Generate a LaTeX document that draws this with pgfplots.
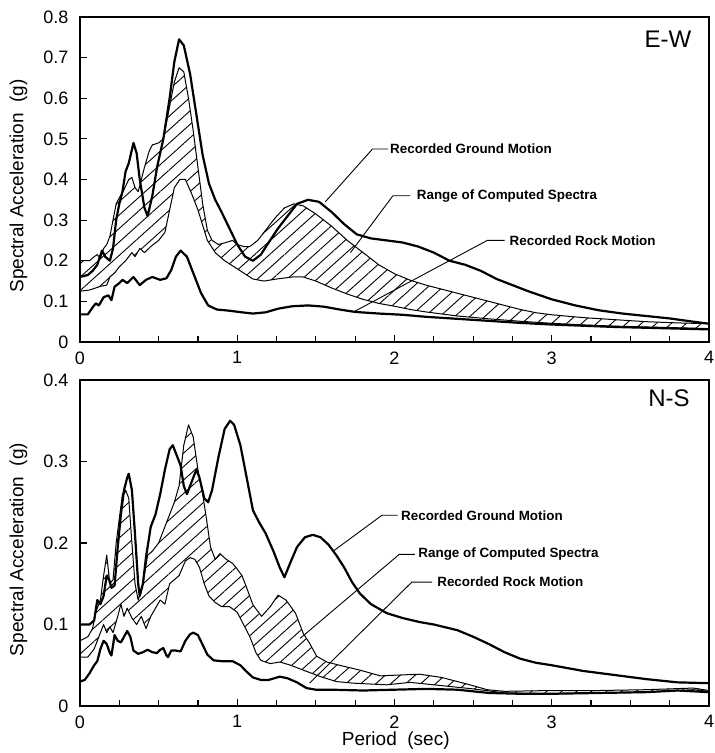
\documentclass[border=0pt]{standalone}
\usepackage{fontspec}
\setmainfont{Liberation Sans}
\usepackage{pgfplots}
\usepackage{pgfplotstable}
\pgfplotsset{compat=1.18}
\usepgfplotslibrary{fillbetween}
\usetikzlibrary{patterns.meta}

% ---------------- E-W component ----------------
\pgfplotstableread{
T A
0 0.16
0.05 0.165
0.08 0.175
0.11 0.19
0.14 0.225
0.16 0.21
0.19 0.20
0.21 0.23
0.23 0.30
0.25 0.34
0.27 0.37
0.29 0.42
0.31 0.44
0.34 0.49
0.36 0.465
0.38 0.40
0.41 0.33
0.43 0.31
0.46 0.36
0.49 0.43
0.53 0.50
0.57 0.60
0.60 0.69
0.63 0.745
0.66 0.73
0.70 0.66
0.74 0.56
0.78 0.46
0.82 0.39
0.86 0.35
0.90 0.32
0.95 0.28
1.00 0.24
1.05 0.21
1.10 0.20
1.15 0.215
1.20 0.245
1.26 0.28
1.32 0.31
1.38 0.34
1.45 0.35
1.52 0.345
1.60 0.32
1.68 0.29
1.76 0.265
1.85 0.255
1.95 0.25
2.05 0.245
2.15 0.235
2.25 0.22
2.35 0.20
2.45 0.19
2.55 0.175
2.65 0.155
2.75 0.14
2.85 0.125
3.00 0.105
3.15 0.09
3.30 0.078
3.45 0.07
3.60 0.064
3.75 0.058
3.90 0.05
4.00 0.045
}\ewGround

\pgfplotstableread{
T A
0 0.068
0.05 0.068
0.08 0.085
0.10 0.095
0.12 0.09
0.15 0.11
0.18 0.115
0.20 0.103
0.22 0.136
0.25 0.145
0.27 0.153
0.30 0.145
0.34 0.16
0.38 0.14
0.42 0.153
0.46 0.16
0.51 0.153
0.55 0.157
0.58 0.177
0.61 0.21
0.64 0.225
0.68 0.21
0.72 0.17
0.77 0.12
0.815 0.09
0.87 0.08
0.95 0.077
1.03 0.073
1.10 0.07
1.18 0.073
1.26 0.082
1.35 0.088
1.45 0.09
1.55 0.087
1.65 0.08
1.75 0.074
1.90 0.07
2.05 0.067
2.20 0.062
2.40 0.057
2.60 0.052
2.80 0.047
3.00 0.043
3.20 0.04
3.40 0.037
3.60 0.035
3.80 0.033
4.00 0.031
}\ewRock

\pgfplotstableread{
T A
0 0.20
0.06 0.20
0.09 0.21
0.11 0.215
0.13 0.205
0.15 0.23
0.17 0.24
0.19 0.26
0.21 0.30
0.23 0.34
0.25 0.355
0.28 0.375
0.31 0.40
0.33 0.405
0.35 0.38
0.37 0.37
0.39 0.40
0.41 0.43
0.44 0.47
0.46 0.485
0.50 0.49
0.53 0.50
0.56 0.56
0.60 0.64
0.63 0.675
0.66 0.665
0.69 0.60
0.72 0.52
0.75 0.43
0.78 0.34
0.81 0.275
0.84 0.25
0.88 0.24
0.93 0.245
0.97 0.25
1.00 0.24
1.04 0.235
1.08 0.235
1.13 0.25
1.18 0.275
1.24 0.305
1.30 0.33
1.36 0.34
1.42 0.335
1.50 0.315
1.60 0.285
1.70 0.25
1.80 0.22
1.90 0.19
2.00 0.168
2.10 0.152
2.20 0.14
2.30 0.13
2.40 0.12
2.50 0.11
2.60 0.10
2.70 0.09
2.80 0.08
2.90 0.072
3.00 0.067
3.20 0.06
3.40 0.055
3.60 0.05
3.80 0.047
4.00 0.045
}\ewUpper

\pgfplotstableread{
T A
0 0.125
0.06 0.128
0.10 0.133
0.13 0.137
0.17 0.14
0.19 0.16
0.22 0.17
0.25 0.185
0.29 0.20
0.33 0.22
0.35 0.21
0.38 0.23
0.41 0.22
0.45 0.235
0.50 0.25
0.54 0.27
0.57 0.325
0.60 0.38
0.635 0.40
0.67 0.40
0.71 0.365
0.75 0.325
0.81 0.25
0.86 0.22
0.92 0.20
1.00 0.18
1.10 0.155
1.17 0.15
1.25 0.155
1.35 0.16
1.42 0.16
1.50 0.15
1.60 0.133
1.70 0.118
1.80 0.105
1.90 0.095
2.00 0.088
2.10 0.08
2.20 0.074
2.40 0.064
2.60 0.057
2.80 0.051
3.00 0.046
3.20 0.042
3.40 0.039
3.60 0.037
3.80 0.035
4.00 0.033
}\ewLower

% ---------------- N-S component ----------------
\pgfplotstableread{
T A
0 0.10
0.06 0.10
0.09 0.105
0.11 0.13
0.13 0.125
0.15 0.135
0.17 0.16
0.185 0.155
0.20 0.145
0.22 0.148
0.24 0.195
0.26 0.235
0.28 0.265
0.30 0.28
0.31 0.285
0.33 0.265
0.35 0.21
0.37 0.15
0.38 0.135
0.40 0.15
0.42 0.183
0.45 0.22
0.48 0.235
0.51 0.26
0.54 0.29
0.57 0.315
0.59 0.32
0.61 0.31
0.64 0.295
0.66 0.27
0.68 0.26
0.71 0.275
0.74 0.29
0.76 0.28
0.79 0.255
0.815 0.25
0.84 0.265
0.88 0.305
0.92 0.34
0.955 0.35
0.98 0.345
1.02 0.32
1.06 0.28
1.10 0.24
1.14 0.225
1.18 0.212
1.23 0.19
1.27 0.17
1.30 0.158
1.34 0.177
1.38 0.195
1.43 0.207
1.48 0.21
1.53 0.207
1.58 0.198
1.63 0.185
1.68 0.17
1.73 0.152
1.78 0.138
1.85 0.125
1.95 0.114
2.05 0.108
2.16 0.103
2.25 0.10
2.40 0.093
2.50 0.085
2.60 0.076
2.70 0.066
2.80 0.058
2.90 0.053
3.00 0.05
3.20 0.043
3.40 0.038
3.60 0.033
3.80 0.029
4.00 0.028
}\nsGround

\pgfplotstableread{
T A
0 0.03
0.03 0.032
0.06 0.04
0.09 0.05
0.11 0.055
0.13 0.07
0.15 0.08
0.17 0.076
0.19 0.065
0.20 0.062
0.22 0.087
0.24 0.08
0.26 0.078
0.28 0.085
0.30 0.092
0.32 0.085
0.34 0.068
0.37 0.064
0.40 0.066
0.43 0.069
0.46 0.066
0.49 0.065
0.51 0.069
0.53 0.071
0.55 0.062
0.56 0.06
0.58 0.068
0.61 0.068
0.64 0.067
0.67 0.08
0.70 0.088
0.72 0.09
0.75 0.087
0.78 0.075
0.81 0.063
0.85 0.056
0.90 0.055
0.97 0.055
1.02 0.05
1.06 0.042
1.10 0.035
1.15 0.032
1.20 0.032
1.27 0.036
1.32 0.034
1.38 0.029
1.44 0.022
1.50 0.02
1.60 0.02
1.80 0.019
2.00 0.02
2.20 0.021
2.40 0.02
2.60 0.016
2.80 0.015
3.00 0.015
3.30 0.016
3.60 0.017
3.80 0.019
4.00 0.017
}\nsRock

\pgfplotstableread{
T A
0 0.08
0.05 0.085
0.08 0.095
0.10 0.115
0.13 0.13
0.15 0.16
0.17 0.185
0.19 0.15
0.21 0.155
0.23 0.20
0.25 0.23
0.27 0.26
0.29 0.265
0.31 0.255
0.33 0.20
0.35 0.15
0.37 0.13
0.40 0.15
0.43 0.185
0.46 0.19
0.50 0.20
0.54 0.22
0.57 0.235
0.60 0.25
0.63 0.27
0.66 0.32
0.69 0.345
0.72 0.33
0.75 0.29
0.78 0.26
0.80 0.235
0.83 0.195
0.86 0.18
0.89 0.187
0.93 0.18
0.97 0.175
1.00 0.168
1.03 0.16
1.06 0.145
1.10 0.124
1.155 0.11
1.21 0.122
1.26 0.136
1.31 0.13
1.37 0.114
1.42 0.089
1.46 0.077
1.505 0.061
1.57 0.054
1.65 0.05
1.78 0.044
1.91 0.037
2.03 0.038
2.16 0.039
2.30 0.035
2.46 0.027
2.59 0.02
2.70 0.018
3.00 0.019
3.30 0.019
3.60 0.02
3.90 0.022
4.00 0.019
}\nsUpper

\pgfplotstableread{
T A
0 0.06
0.05 0.06
0.09 0.07
0.12 0.085
0.15 0.10
0.17 0.09
0.19 0.097
0.21 0.09
0.24 0.11
0.26 0.125
0.28 0.11
0.30 0.12
0.33 0.108
0.36 0.10
0.39 0.11
0.42 0.095
0.45 0.11
0.48 0.12
0.51 0.13
0.54 0.125
0.57 0.15
0.60 0.155
0.63 0.16
0.67 0.178
0.70 0.182
0.73 0.18
0.76 0.17
0.79 0.15
0.82 0.135
0.86 0.127
0.90 0.122
0.95 0.122
1.00 0.115
1.04 0.10
1.08 0.085
1.12 0.065
1.15 0.056
1.21 0.052
1.27 0.054
1.34 0.05
1.42 0.044
1.53 0.036
1.63 0.03
1.74 0.028
1.95 0.026
2.10 0.029
2.30 0.025
2.50 0.021
2.70 0.016
3.00 0.015
3.30 0.016
3.60 0.017
3.90 0.02
4.00 0.018
}\nsLower

\tikzset{
  ground/.style={black, line width=1.1pt, line join=round},
  rock/.style={black, line width=1.1pt, line join=round},
  envelope/.style={black, line width=0.5pt, line join=round},
  hatch/.style={draw=none, pattern={Lines[angle=42,distance=5pt,line width=0.45pt]}},
  leader/.style={black, line width=0.45pt},
  callout/.style={font=\bfseries\fontsize{6.7}{8}\selectfont, anchor=west, inner sep=0pt},
}

\pgfplotsset{
  spectrum panel/.style={
    scale only axis, width=314.5pt,
    xmin=0, xmax=4, xtick={0,1,2,3,4}, minor x tick num=3,
    tick align=inside, xtick pos=left, ytick pos=left,
    major tick length=3.5pt, minor tick length=3pt,
    axis line style={line width=0.7pt},
    tick style={black, line width=0.6pt},
    /pgf/number format/assume math mode=true,
    ticklabel style={font=\fontsize{9}{10}\selectfont},
    xticklabel style={yshift=-1.2pt},
    yticklabel style={xshift=-2.3pt},
    label style={font=\fontsize{9.5}{11}\selectfont},
    ylabel={Spectral Acceleration\ \ (g)},
    ylabel style={at={(axis description cs:-0.0978,0.48)}, anchor=center},
  },
}

\begin{document}
\begin{tikzpicture}
% E-W panel
\begin{axis}[spectrum panel, at={(0pt,182pt)}, height=162.5pt,
  ymin=0, ymax=0.8, ytick={0,0.1,0.2,0.3,0.4,0.5,0.6,0.7,0.8}]
  \addplot[draw=none, name path=ewU, forget plot] table {\ewUpper};
  \addplot[draw=none, name path=ewL, forget plot] table {\ewLower};
  \addplot[hatch] fill between[of=ewU and ewL];
  \addplot[envelope] table {\ewUpper};
  \addplot[envelope] table {\ewLower};
  \addplot[rock] table {\ewRock};
  \addplot[ground] table {\ewGround};
  \draw[leader] (axis cs:1.56,0.345) -- (axis cs:1.86,0.475) -- (axis cs:1.96,0.475);
  \node[callout] at (axis cs:1.97,0.475) {Recorded Ground Motion};
  \draw[leader] (axis cs:1.72,0.22) -- (axis cs:1.99,0.36) -- (axis cs:2.10,0.36);
  \node[callout] at (axis cs:2.14,0.36) {Range of Computed Spectra};
  \draw[leader] (axis cs:1.74,0.074) -- (axis cs:2.59,0.25) -- (axis cs:2.70,0.25);
  \node[callout] at (axis cs:2.73,0.25) {Recorded Rock Motion};
  \node[anchor=east, inner sep=0pt, font=\fontsize{12}{14}\selectfont] at (axis cs:3.89,0.745) {E-W};
\end{axis}
% N-S panel
\begin{axis}[spectrum panel, at={(0pt,0pt)}, height=163pt,
  ymin=0, ymax=0.4, ytick={0,0.1,0.2,0.3,0.4},
  xlabel={Period\ \ (sec)},
  xlabel style={at={(axis description cs:0.502,-0.107)}, anchor=center}]
  \addplot[draw=none, name path=nsU, forget plot] table {\nsUpper};
  \addplot[draw=none, name path=nsL, forget plot] table {\nsLower};
  \addplot[hatch] fill between[of=nsU and nsL];
  \addplot[envelope] table {\nsUpper};
  \addplot[envelope] table {\nsLower};
  \addplot[rock] table {\nsRock};
  \addplot[ground] table {\nsGround};
  \draw[leader] (axis cs:1.61,0.19) -- (axis cs:1.92,0.234) -- (axis cs:2.02,0.234);
  \node[callout] at (axis cs:2.04,0.234) {Recorded Ground Motion};
  \draw[leader] (axis cs:1.40,0.083) -- (axis cs:2.03,0.186) -- (axis cs:2.13,0.186);
  \node[callout] at (axis cs:2.15,0.186) {Range of Computed Spectra};
  \draw[leader] (axis cs:1.46,0.028) -- (axis cs:2.11,0.152) -- (axis cs:2.24,0.152);
  \node[callout] at (axis cs:2.27,0.152) {Recorded Rock Motion};
  \node[anchor=east, inner sep=0pt, font=\fontsize{12}{14}\selectfont] at (axis cs:3.88,0.378) {N-S};
\end{axis}
\pgfresetboundingbox
\path[use as bounding box] (-40pt,-23.5pt) rectangle (317pt,353pt);
\end{tikzpicture}
\end{document}
